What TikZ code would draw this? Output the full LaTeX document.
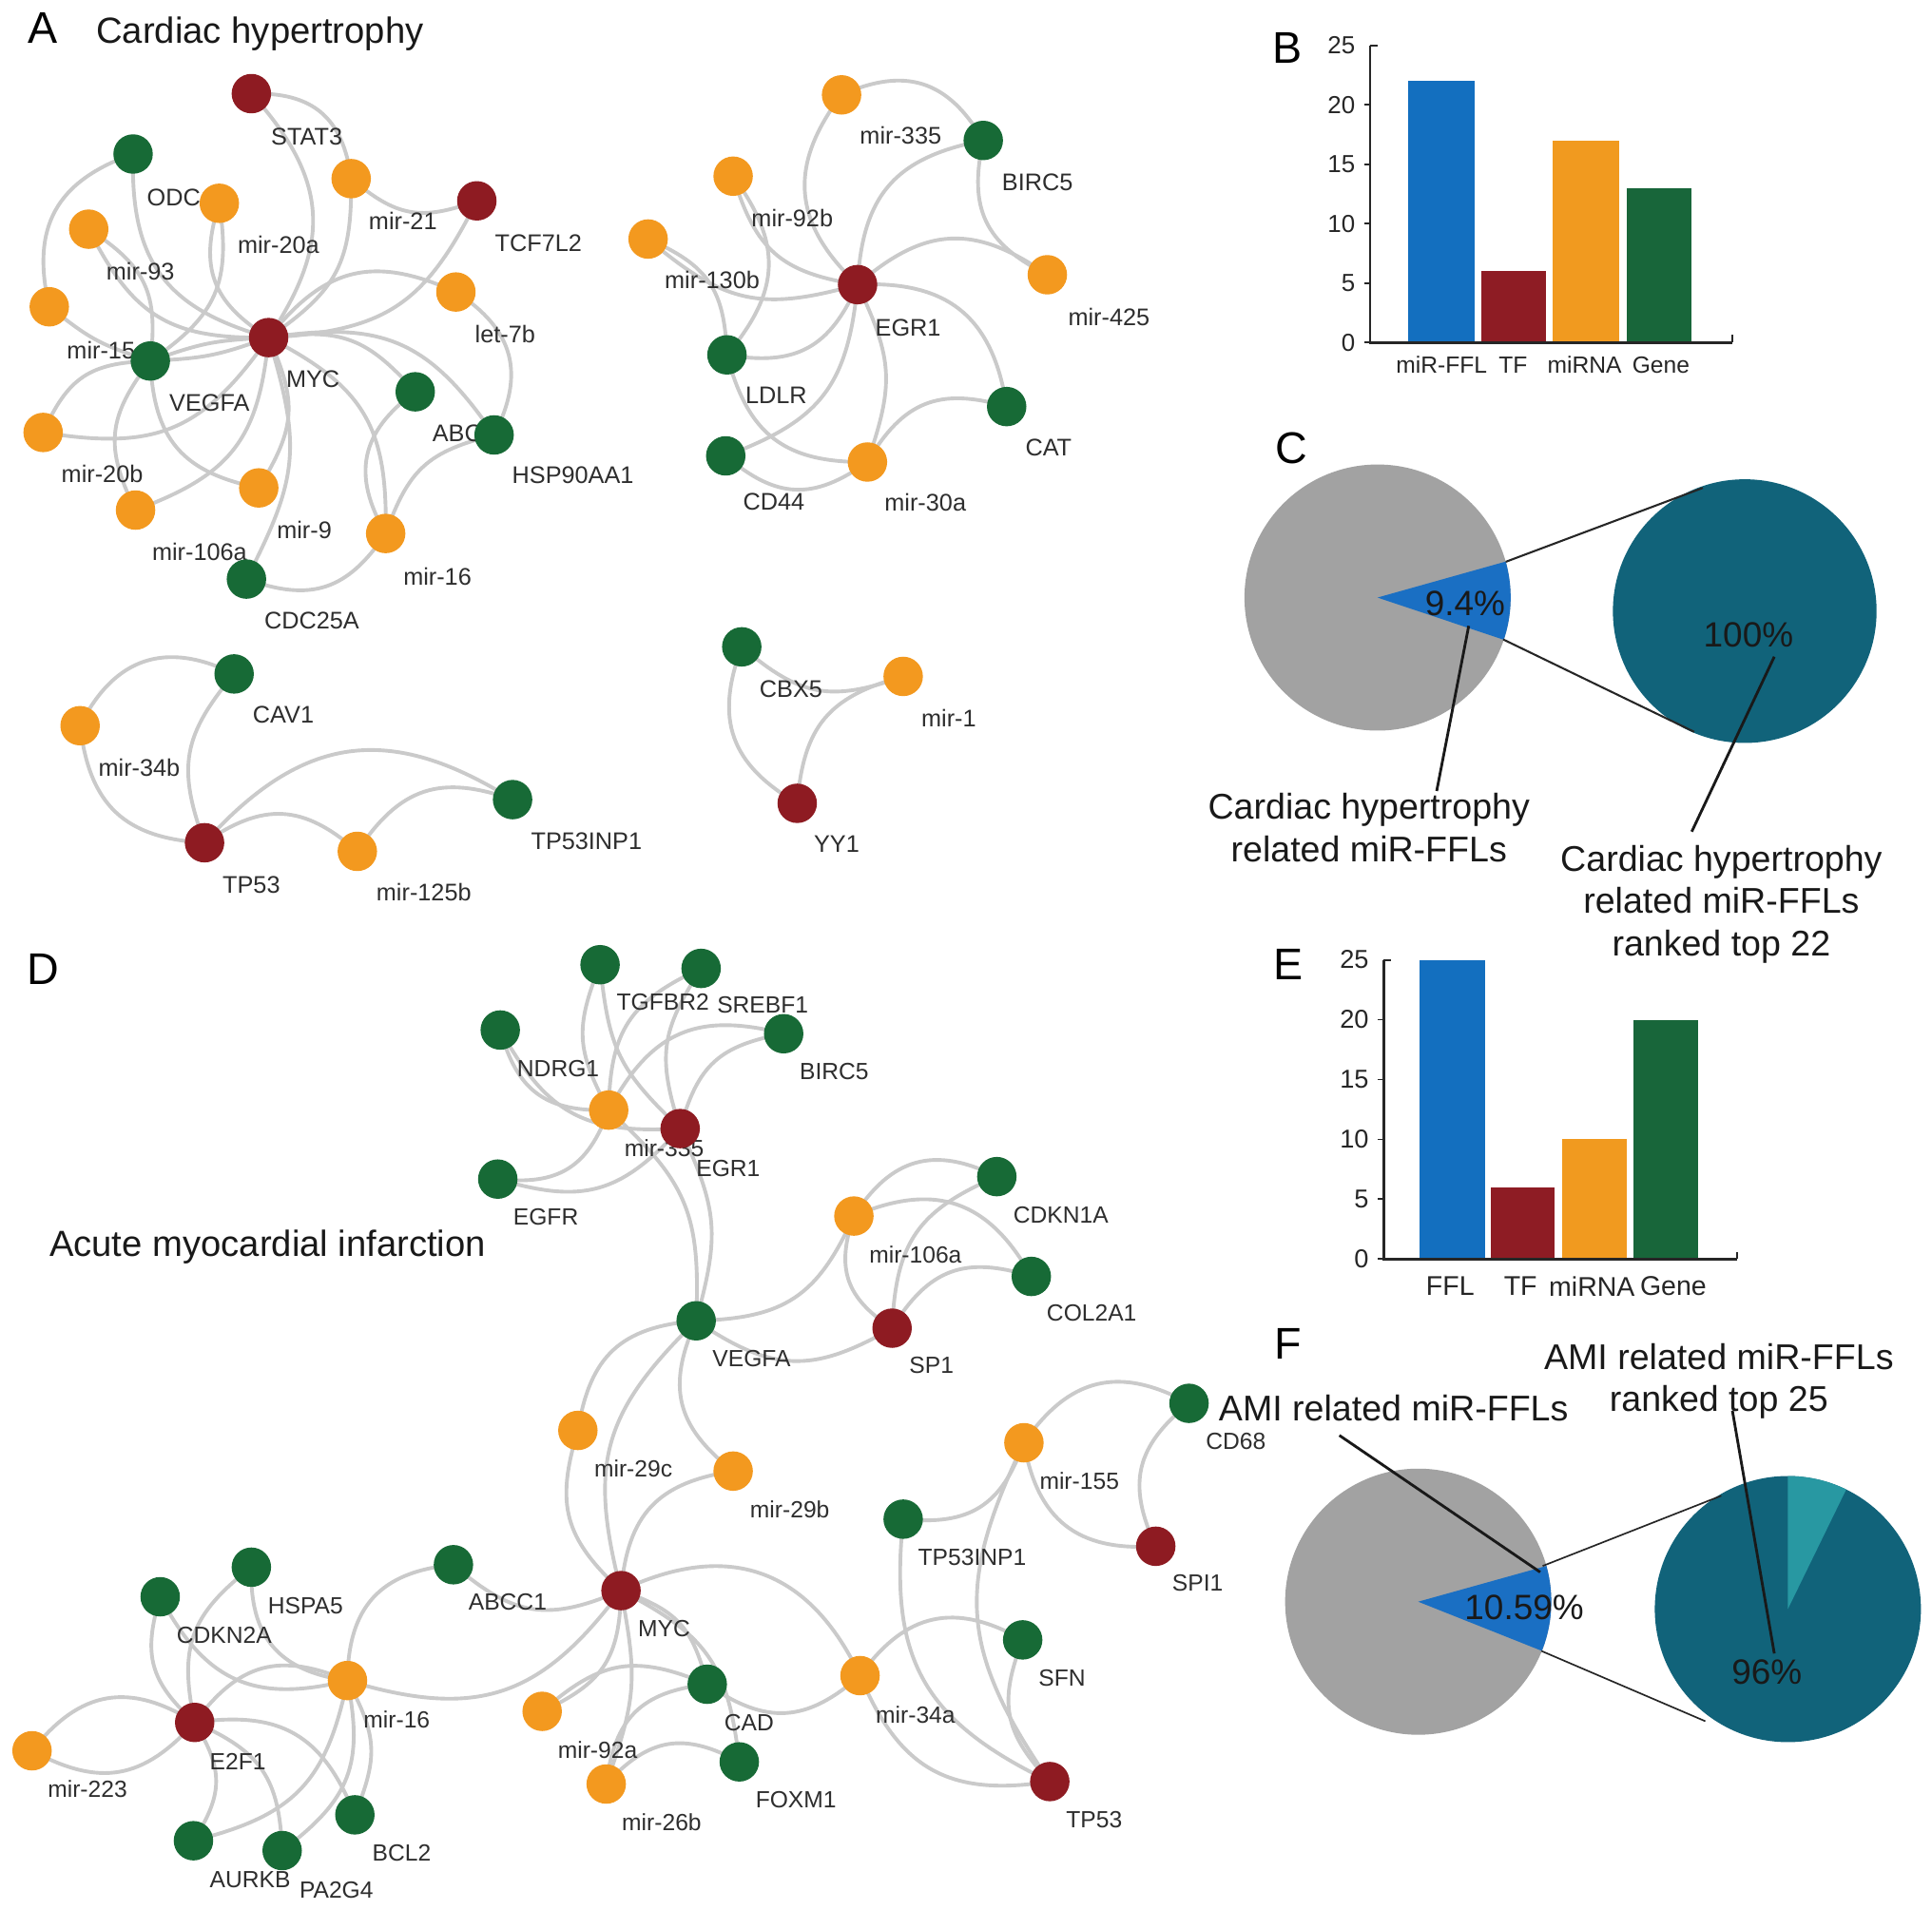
\documentclass[tikz,border=0pt]{standalone}
\usepackage{fontspec}
\setmainfont{Liberation Sans}
\pgfdeclarelayer{edges}
\pgfdeclarelayer{labs}
\pgfsetlayers{edges,labs,main}
\definecolor{tfred}{HTML}{8E1B22}
\definecolor{mirorange}{HTML}{F3991F}
\definecolor{genegreen}{HTML}{176A36}
\definecolor{edgegray}{HTML}{CACACA}
\definecolor{labgray}{HTML}{2E2E2E}
\definecolor{barblue}{HTML}{136FBF}
\definecolor{barred}{HTML}{8E1C24}
\definecolor{barorange}{HTML}{F19A1F}
\definecolor{bargreen}{HTML}{18663A}
\definecolor{piegray}{HTML}{A2A2A2}
\definecolor{pieblue}{HTML}{1A6FC3}
\definecolor{pieteal}{HTML}{11637A}
\definecolor{pielight}{HTML}{2898A2}
\newcommand\fsz[1]{\fontsize{#1}{#1}\selectfont}
\newcommand\gn[7]{%
  \begin{pgfonlayer}{labs}\node[lbl] (l#1) at (#6,#7) {#5};\end{pgfonlayer}%
  \node[#2] (#1) at (#3,#4) {};}
\newcommand\cnx[3]{\draw[edg] (#1.center) to[#3] (#2.center);}
\begin{document}
\begin{tikzpicture}[x=1pt,y=-1pt,
  nd/.style={circle,minimum size=32pt,inner sep=0pt,draw=none},
  tfn/.style={nd,fill=tfred},
  mirn/.style={nd,fill=mirorange},
  genen/.style={nd,fill=genegreen},
  lbl/.style={font=\fsz{19.5},inner sep=0pt,text=labgray},
  edg/.style={draw=edgegray,line width=3pt},
  bendL/.style={bend left=#1,looseness=1.2},
  bendR/.style={bend right=#1,looseness=1.2},
  panel/.style={font=\fsz{36},inner sep=0pt},
  title/.style={font=\fsz{29.5},inner sep=0pt,text=black!90},
  axisline/.style={line width=2pt,black!85},
  tickline/.style={line width=1.5pt,black!85},
  tickB/.style={font=\fsz{20},inner sep=0pt,anchor=east,text=black!85},
  tickE/.style={font=\fsz{21},inner sep=0pt,anchor=east,text=black!85},
  catB/.style={font=\fsz{19},inner sep=0pt,text=black!85},
  catE/.style={font=\fsz{22},inner sep=0pt,text=black!85},
  pietext/.style={font=\fontsize{29}{34.5}\selectfont,inner sep=0pt,align=center,text=black!90},
  pct/.style={font=\fsz{28.5},inner sep=0pt,text=black!90},
  callout/.style={line width=2.2pt,black!90},
  zoomline/.style={line width=1.6pt,black!85}
]
\useasboundingbox (0,0) rectangle (1568,1550.2);
\begin{pgfonlayer}{edges}
\fill[white] (0,0) rectangle (1568,1550.2);
\end{pgfonlayer}

% ---------------- Panel letters and titles
\node[panel] (pA) at (35,23) {A};
\node[panel] (pB) at (1045,39) {B};
\node[panel] (pC) at (1048,364) {C};
\node[panel] (pD) at (35,787) {D};
\node[panel] (pE) at (1046,783) {E};
\node[panel] (pF) at (1045,1091) {F};
\node[title,anchor=base west] (tA) at (78,35) {Cardiac hypertrophy};
\node[title,anchor=base west] (tD) at (40,1020) {Acute myocardial infarction};

% ---------------- Panel A, network 1
\gn{pSTAT}{tfn}{204}{76}{STAT3}{249}{111}
\gn{pODC}{genen}{108}{125}{ODC}{141}{160}
\gn{pm21}{mirn}{285}{145}{mir-21}{327}{179}
\gn{pTCF}{tfn}{387}{163}{TCF7L2}{437}{197}
\gn{pm20a}{mirn}{178}{165}{mir-20a}{226}{199}
\gn{pm93}{mirn}{72}{186}{mir-93}{114}{220}
\gn{plet}{mirn}{370}{237}{let-7b}{410}{271}
\gn{pm15}{mirn}{40}{249}{mir-15}{82}{284}
\gn{pMYC}{tfn}{218}{274}{MYC}{254}{308}
\gn{pVEG}{genen}{122}{293}{VEGFA}{170}{327}
\gn{pABC}{genen}{337}{318}{ABC}{371}{352}
\gn{pHSP}{genen}{401}{353}{HSP90AA1}{465}{386}
\gn{pm20b}{mirn}{35}{351}{mir-20b}{83}{385}
\gn{pm9}{mirn}{210}{396}{mir-9}{247}{430}
\gn{pm106}{mirn}{110}{414}{mir-106a}{162}{448}
\gn{pm16}{mirn}{313}{433}{mir-16}{355}{468}
\gn{pCDC}{genen}{200}{470}{CDC25A}{253}{504}

% ---------------- Panel A, network 2
\gn{q335}{mirn}{683}{77}{mir-335}{731}{110}
\gn{qBIR}{genen}{798}{114}{BIRC5}{842}{148}
\gn{q92b}{mirn}{595}{143}{mir-92b}{643}{177}
\gn{q130}{mirn}{526}{194}{mir-130b}{578}{227}
\gn{qEGR}{tfn}{696}{231}{EGR1}{737}{266}
\gn{q425}{mirn}{850}{223}{mir-425}{900}{257}
\gn{qLDL}{genen}{590}{288}{LDLR}{630}{321}
\gn{qCAT}{genen}{817}{330}{CAT}{851}{363}
\gn{qCD44}{genen}{589}{370}{CD44}{628}{407}
\gn{q30a}{mirn}{704}{375}{mir-30a}{751}{408}

% ---------------- Panel A, network 3
\gn{rCAV}{genen}{190}{547}{CAV1}{230}{580}
\gn{r34b}{mirn}{65}{589}{mir-34b}{113}{623}
\gn{rINP}{genen}{416}{649}{TP53INP1}{476}{683}
\gn{rTP53}{tfn}{166}{684}{TP53}{204}{718}
\gn{r125}{mirn}{290}{691}{mir-125b}{344}{724}

% ---------------- Panel A, network 4
\gn{sCBX}{genen}{602}{525}{CBX5}{642}{559}
\gn{s1}{mirn}{733}{549}{mir-1}{770}{583}
\gn{sYY}{tfn}{647}{652}{YY1}{679}{685}

% ---------------- Panel D
\tikzset{lbl/.style={font=\fsz{19},inner sep=0pt,text=labgray}}
\gn{dTGF}{genen}{487}{783}{TGFBR2}{538}{813}
\gn{dSRE}{genen}{569}{786}{SREBF1}{619}{816}
\gn{dNDR}{genen}{406}{836}{NDRG1}{453}{867}
\gn{dBIR}{genen}{636}{839}{BIRC5}{677}{870}
\gn{d335}{mirn}{494}{901}{mir-335}{539}{932}
\gn{dEGR}{tfn}{552}{916}{EGR1}{591}{948}
\gn{dEGF}{genen}{404}{957}{EGFR}{443}{988}
\gn{d106}{mirn}{693}{987}{mir-106a}{743}{1018}
\gn{dCDK1}{genen}{809}{955}{CDKN1A}{861}{986}
\gn{dCOL}{genen}{837}{1036}{COL2A1}{886}{1066}
\gn{dVEG}{genen}{565}{1072}{VEGFA}{610}{1103}
\gn{dSP1}{tfn}{724}{1078}{SP1}{756}{1108}
\gn{dCD68}{genen}{965}{1139}{CD68}{1003}{1170}
\gn{d29c}{mirn}{469}{1161}{mir-29c}{514}{1192}
\gn{d155}{mirn}{831}{1171}{mir-155}{876}{1202}
\gn{d29b}{mirn}{595}{1194}{mir-29b}{641}{1225}
\gn{dTPI}{genen}{733}{1233}{TP53INP1}{789}{1264}
\gn{dSPI}{tfn}{938}{1255}{SPI1}{972}{1285}
\gn{dHSP}{genen}{204}{1272}{HSPA5}{248}{1303}
\gn{dABC}{genen}{368}{1270}{ABCC1}{412}{1300}
\gn{dMYC}{tfn}{504}{1291}{MYC}{539}{1322}
\gn{dCDK2}{genen}{130}{1296}{CDKN2A}{182}{1327}
\gn{dSFN}{genen}{830}{1331}{SFN}{862}{1362}
\gn{d16}{mirn}{282}{1364}{mir-16}{322}{1396}
\gn{dCAD}{genen}{574}{1367}{CAD}{608}{1398}
\gn{d34a}{mirn}{698}{1360}{mir-34a}{743}{1392}
\gn{dE2F}{tfn}{158}{1398}{E2F1}{193}{1430}
\gn{d92a}{mirn}{440}{1389}{mir-92a}{485}{1420}
\gn{d223}{mirn}{26}{1421}{mir-223}{71}{1452}
\gn{dFOX}{genen}{600}{1430}{FOXM1}{646}{1461}
\gn{d26b}{mirn}{492}{1448}{mir-26b}{537}{1479}
\gn{dTP53}{tfn}{852}{1446}{TP53}{888}{1477}
\gn{dBCL}{genen}{288}{1473}{BCL2}{326}{1504}
\gn{dAUR}{genen}{157}{1494}{AURKB}{203}{1526}
\gn{dPA2}{genen}{229}{1502}{PA2G4}{273}{1534}

% ---------------- Edges
\begin{pgfonlayer}{edges}
% network 1
\cnx{pSTAT}{pMYC}{bendL=38}
\cnx{pSTAT}{pm21}{bendL=42}
\cnx{pm21}{pTCF}{bendR=30}
\cnx{pm21}{pMYC}{bendL=28}
\cnx{pTCF}{pMYC}{bendL=30}
\cnx{pMYC}{plet}{bendL=38}
\cnx{plet}{pHSP}{bendL=42}
\cnx{pMYC}{pHSP}{bendL=32}
\cnx{pMYC}{pABC}{bendL=28}
\cnx{pABC}{pm16}{bendR=42}
\cnx{pHSP}{pm16}{bendR=28}
\cnx{pMYC}{pm16}{bendL=32}
\cnx{pm16}{pCDC}{bendL=38}
\cnx{pMYC}{pCDC}{bendL=22}
\cnx{pm9}{pMYC}{bendR=28}
\cnx{pm106}{pMYC}{bendR=32}
\cnx{pVEG}{pm106}{bendR=32}
\cnx{pVEG}{pm9}{bendR=38}
\cnx{pm20b}{pVEG}{bendL=32}
\cnx{pm20b}{pMYC}{bendR=32}
\cnx{pm15}{pVEG}{bendR=10}
\cnx{pm15}{pODC}{bendL=42}
\cnx{pODC}{pMYC}{bendR=38}
\cnx{pm93}{pMYC}{bendR=32}
\cnx{pm93}{pVEG}{bendL=32}
\cnx{pm20a}{pMYC}{bendR=38}
\cnx{pm20a}{pVEG}{bendL=32}
\cnx{pVEG}{pMYC}{bendL=8}
\cnx{pVEG}{pMYC}{bendR=8}
% network 2
\cnx{q335}{qBIR}{bendL=42}
\cnx{q335}{qEGR}{bendR=42}
\cnx{qBIR}{qEGR}{bendR=38}
\cnx{qBIR}{q425}{bendR=38}
\cnx{qEGR}{q425}{bendL=38}
\cnx{q92b}{qEGR}{bendR=32}
\cnx{q92b}{qLDL}{bendL=38}
\cnx{q130}{qEGR}{bendR=28}
\cnx{q130}{qLDL}{bendL=32}
\cnx{qLDL}{qEGR}{bendR=38}
\cnx{qLDL}{q30a}{bendR=38}
\cnx{qEGR}{qCAT}{bendL=42}
\cnx{qEGR}{q30a}{bendL=22}
\cnx{qEGR}{qCD44}{bendL=32}
\cnx{qCD44}{q30a}{bendR=38}
\cnx{q30a}{qCAT}{bendL=38}
% network 3
\cnx{r34b}{rCAV}{bendL=45}
\cnx{rCAV}{rTP53}{bendR=30}
\cnx{r34b}{rTP53}{bendR=40}
\cnx{rTP53}{rINP}{bendL=40}
\cnx{rTP53}{r125}{bendL=38}
\cnx{r125}{rINP}{bendL=38}
% network 4
\cnx{sCBX}{s1}{bendR=30}
\cnx{sCBX}{sYY}{bendR=40}
\cnx{s1}{sYY}{bendR=35}
% panel D
\cnx{dTGF}{d335}{bendR=25}
\cnx{dTGF}{dEGR}{bendR=20}
\cnx{dSRE}{d335}{bendR=32}
\cnx{dSRE}{dEGR}{bendR=25}
\cnx{dNDR}{d335}{bendR=38}
\cnx{dNDR}{dEGR}{bendR=32}
\cnx{dBIR}{d335}{bendR=38}
\cnx{dBIR}{dEGR}{bendR=32}
\cnx{dEGF}{d335}{bendR=38}
\cnx{dEGF}{dEGR}{bendR=32}
\cnx{dEGR}{dVEG}{bendL=20}
\cnx{d335}{dVEG}{bendL=25}
\cnx{dVEG}{d106}{bendR=32}
\cnx{d106}{dCDK1}{bendL=42}
\cnx{d106}{dCOL}{bendL=42}
\cnx{d106}{dSP1}{bendR=38}
\cnx{dSP1}{dCDK1}{bendL=32}
\cnx{dSP1}{dCOL}{bendL=38}
\cnx{dVEG}{dSP1}{bendR=32}
\cnx{dVEG}{d29c}{bendR=38}
\cnx{dVEG}{d29b}{bendR=38}
\cnx{dVEG}{dMYC}{bendR=30}
\cnx{d29c}{dMYC}{bendR=32}
\cnx{d29b}{dMYC}{bendR=38}
\cnx{d155}{dCD68}{bendL=42}
\cnx{d155}{dSPI}{bendR=42}
\cnx{dCD68}{dSPI}{bendR=38}
\cnx{dTPI}{d155}{bendR=38}
\cnx{d155}{dTP53}{bendR=30}
\cnx{dTPI}{dTP53}{bendR=35}
\cnx{d34a}{dSFN}{bendL=42}
\cnx{dSFN}{dTP53}{bendR=32}
\cnx{d34a}{dTP53}{bendR=38}
\cnx{dMYC}{d34a}{bendL=45}
\cnx{dCAD}{d34a}{bendR=38}
\cnx{dMYC}{dCAD}{bendL=28}
\cnx{dMYC}{dFOX}{bendL=28}
\cnx{dMYC}{d92a}{bendL=32}
\cnx{dMYC}{d26b}{bendL=15}
\cnx{d92a}{dCAD}{bendL=32}
\cnx{d26b}{dCAD}{bendL=38}
\cnx{d26b}{dFOX}{bendL=38}
\cnx{dMYC}{d16}{bendL=35}
\cnx{dMYC}{dABC}{bendL=32}
\cnx{dABC}{d16}{bendR=42}
\cnx{dHSP}{d16}{bendR=42}
\cnx{dHSP}{dE2F}{bendR=32}
\cnx{dCDK2}{d16}{bendR=38}
\cnx{dCDK2}{dE2F}{bendR=32}
\cnx{d16}{dE2F}{bendR=38}
\cnx{d16}{dAUR}{bendL=32}
\cnx{d16}{dPA2}{bendL=32}
\cnx{d16}{dBCL}{bendL=25}
\cnx{dE2F}{d223}{bendR=42}
\cnx{dE2F}{d223}{bendL=38}
\cnx{dE2F}{dAUR}{bendL=32}
\cnx{dE2F}{dPA2}{bendL=32}
\cnx{dE2F}{dBCL}{bendL=38}
\end{pgfonlayer}

% ---------------- Panel B bar chart
\fill[barblue]   (1143,278) rectangle (1197,{278-9.64*22});
\fill[barred]    (1202,278) rectangle (1255,{278-9.64*6});
\fill[barorange] (1260,278) rectangle (1314,{278-9.64*17});
\fill[bargreen]  (1320,278) rectangle (1373,{278-9.64*13});
\draw[axisline] (1112,37) -- (1112,278) -- (1406,278);
\draw[tickline] (1112,37) -- (1118,37);
\draw[tickline] (1406,278) -- (1406,272);
\foreach \v in {0,5,10,15,20}{\draw[tickline] (1112,{278-9.64*\v}) -- ++(-5,0);}
\foreach \v in {0,5,10,15,20,25}{\node[tickB] (bt\v) at (1100,{278-9.64*\v}) {\v};}
\node[catB] (bc1) at (1170,296) {miR-FFL};
\node[catB] (bc2) at (1228,296) {TF};
\node[catB] (bc3) at (1286,296) {miRNA};
\node[catB] (bc4) at (1348,296) {Gene};

% ---------------- Panel E bar chart
\fill[barblue]   (1152,1022) rectangle (1205,{1022-9.72*25});
\fill[barred]    (1210,1022) rectangle (1262,{1022-9.72*6});
\fill[barorange] (1268,1022) rectangle (1320,{1022-9.72*10});
\fill[bargreen]  (1326,1022) rectangle (1378,{1022-9.72*20});
\draw[axisline] (1123,779) -- (1123,1022) -- (1410,1022);
\draw[tickline] (1123,779) -- (1129,779);
\draw[tickline] (1410,1022) -- (1410,1016);
\foreach \v in {0,5,10,15,20}{\draw[tickline] (1123,{1022-9.72*\v}) -- ++(-5,0);}
\foreach \v in {0,5,10,15,20,25}{\node[tickE] (et\v) at (1111,{1022-9.72*\v}) {\v};}
\node[catE] (ec1) at (1177,1044) {FFL};
\node[catE] (ec2) at (1234,1044) {TF};
\node[catE] (ec3) at (1292,1044) {miRNA};
\node[catE] (ec4) at (1358,1044) {Gene};

% ---------------- Panel C pies
\coordinate (cL) at (1118,485);
\coordinate (cR) at (1416,496);
\fill[piegray] (cL) circle[radius=108];
\begin{scope}
\clip (1118,485) -- (1358.7,417.4) -- (1420,485) -- (1355.1,564.3) -- cycle;
\fill[pieblue] (cL) circle[radius=108];
\end{scope}
\fill[pieteal] (cR) circle[radius=107];
\coordinate (cz1) at (1222,456);
\coordinate (cz2) at (1382,396);
\coordinate (cz3) at (1220,519);
\coordinate (cz4) at (1375,594);
\draw[zoomline] (cz1) -- (cz2);
\draw[zoomline] (cz3) -- (cz4);
\node[pct] (c94) at (1189,490) {9.4\%};
\node[pct] (c100) at (1419,515) {100\%};
\node[pietext] (cT1) at (1111,672) {Cardiac hypertrophy\\related miR-FFLs};
\node[pietext] (cT2) at (1397,734) {Cardiac hypertrophy\\related miR-FFLs\\ranked top 22};
\coordinate (cc1) at (1192,508);
\coordinate (cc2) at (1166,642);
\coordinate (cc3) at (1440,533);
\coordinate (cc4) at (1373,675);
\draw[callout] (cc1) -- (cc2);
\draw[callout] (cc3) -- (cc4);

% ---------------- Panel F pies
\coordinate (fL) at (1151,1300);
\coordinate (fR) at (1451,1306);
\fill[piegray] (fL) circle[radius=108];
\begin{scope}
\clip (1151,1300) -- (1391.8,1232.8) -- (1440,1300) -- (1383.3,1392.4) -- cycle;
\fill[pieblue] (fL) circle[radius=108];
\end{scope}
\fill[pieteal] (fR) circle[radius=108];
\begin{scope}
\clip (1451,1306) -- (1451,1000) -- (1560.6,1081.3) -- cycle;
\fill[pielight] (fR) circle[radius=108];
\end{scope}
\coordinate (fz1) at (1252,1271);
\coordinate (fz2) at (1397,1214);
\coordinate (fz3) at (1251,1340);
\coordinate (fz4) at (1384,1397);
\draw[zoomline,line width=1.3pt] (fz1) -- (fz2);
\draw[zoomline,line width=1.3pt] (fz3) -- (fz4);
\node[pct] (f1059) at (1237,1305) {10.59\%};
\node[pct] (f96) at (1434,1357) {96\%};
\node[pietext] (fT1) at (1131,1143) {AMI related miR-FFLs};
\node[pietext] (fT2) at (1395,1121) {AMI related miR-FFLs\\ranked top 25};
\coordinate (fc1) at (1087,1165);
\coordinate (fc2) at (1250,1276);
\coordinate (fc3) at (1406,1145);
\coordinate (fc4) at (1440,1342);
\draw[callout] (fc1) -- (fc2);
\draw[callout] (fc3) -- (fc4);
\end{tikzpicture}
\end{document}
